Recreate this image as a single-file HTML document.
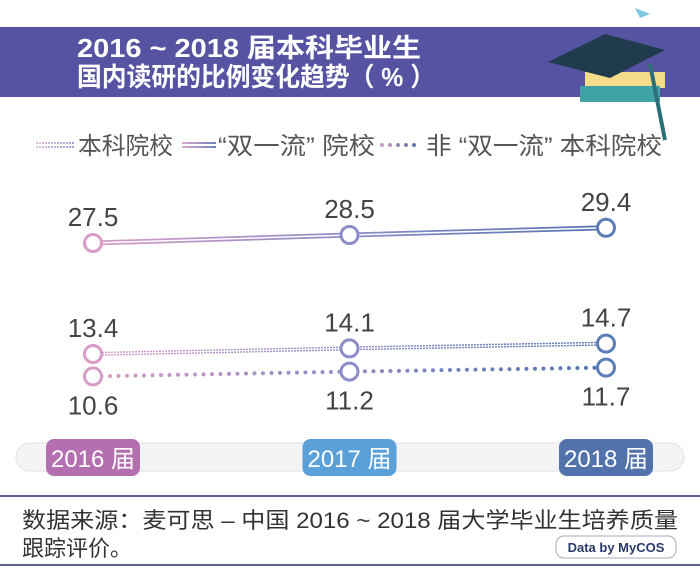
<!DOCTYPE html>
<html><head><meta charset="utf-8">
<style>
body{margin:0;width:700px;height:585px;background:#fff;overflow:hidden;font-family:"Liberation Sans","Noto Sans CJK SC",sans-serif;}
svg{display:block}
</style></head><body>
<svg width="700" height="585" viewBox="0 0 700 585">
<defs>
<linearGradient id="g" x1="93" x2="606" y1="0" y2="0" gradientUnits="userSpaceOnUse">
<stop offset="0" stop-color="#d89cc6"/><stop offset="0.5" stop-color="#8d8cc9"/><stop offset="1" stop-color="#5473b0"/></linearGradient>
<linearGradient id="lg1" x1="36" x2="75" y1="0" y2="0" gradientUnits="userSpaceOnUse"><stop offset="0" stop-color="#d89cc6"/><stop offset="1" stop-color="#5473b0"/></linearGradient>
<linearGradient id="lg2" x1="182" x2="216" y1="0" y2="0" gradientUnits="userSpaceOnUse"><stop offset="0" stop-color="#d89cc6"/><stop offset="1" stop-color="#5473b0"/></linearGradient>
<linearGradient id="lg3" x1="380" x2="418" y1="0" y2="0" gradientUnits="userSpaceOnUse"><stop offset="0" stop-color="#d89cc6"/><stop offset="1" stop-color="#5473b0"/></linearGradient>
</defs>
<rect x="0" y="27" width="700" height="70" fill="#5753a3"/>
<g fill="#fff" font-weight="bold" font-size="26">
<text x="77" y="57" textLength="344" lengthAdjust="spacingAndGlyphs">2016 ~ 2018 届本科毕业生</text>
<text x="77" y="86" textLength="358" lengthAdjust="spacingAndGlyphs">国内读研的比例变化趋势（ % ）</text>
</g>
<g>
<rect x="585" y="72" width="80" height="16" fill="#f4dc8a"/>
<rect x="580" y="86" width="80" height="16" fill="#3fa3a6"/>
<polygon points="548,62 605,34 665,50 610,78" fill="#1f3b4d"/>
<line x1="650" y1="64" x2="665" y2="140" stroke="#2c6f78" stroke-width="4"/>
<polygon points="635,8 650,14 640,18" fill="#7cc6e0"/>
</g>
<g font-size="24" fill="#555">
<g><line x1="36" y1="143" x2="75" y2="143" stroke="url(#lg1)" stroke-width="1.2" stroke-dasharray="2,1"/><line x1="36" y1="147" x2="75" y2="147" stroke="url(#lg1)" stroke-width="1.2" stroke-dasharray="2,1"/><text x="78" y="154" textLength="95" lengthAdjust="spacingAndGlyphs">本科院校</text></g>
<g><line x1="182" y1="143" x2="216" y2="143" stroke="url(#lg2)" stroke-width="1.8"/><line x1="182" y1="147" x2="216" y2="147" stroke="url(#lg2)" stroke-width="1.8"/><text x="218" y="154" textLength="157" lengthAdjust="spacingAndGlyphs">“双一流” 院校</text></g>
<g><line x1="382" y1="145" x2="418" y2="145" stroke="url(#lg3)" stroke-width="4" stroke-linecap="round" stroke-dasharray="0,8"/><text x="426" y="154" textLength="236" lengthAdjust="spacingAndGlyphs">非 “双一流” 本科院校</text></g>
</g>
<rect x="16" y="443" width="668" height="28" rx="14" fill="#f4f4f6" stroke="#e2e2e6"/>
<g id="plot"></g>
<line x1="0" y1="496" x2="700" y2="496" stroke="#5d6190" stroke-width="2"/>
<line x1="0" y1="565" x2="700" y2="565" stroke="#5d6190" stroke-width="2"/>
<g font-size="22" fill="#333">
<text x="22" y="528" textLength="656" lengthAdjust="spacingAndGlyphs">数据来源：麦可思 – 中国 2016 ~ 2018 届大学毕业生培养质量</text>
<text x="22" y="556">跟踪评价。</text>
</g>
<g>
<rect x="556" y="536" width="120" height="22" rx="8" fill="#fff" stroke="#aab"/>
<text x="616" y="552" text-anchor="middle" font-size="13" font-weight="bold" fill="#2a3a6a">Data by MyCOS</text>
</g>
</svg>
<script>
const years = ["2016 届","2017 届","2018 届"];
const doubleFirst = [27.5, 28.5, 29.4];
const undergrad = [13.4, 14.1, 14.7];
const nonDouble = [10.6, 11.2, 11.7];
const pillColors = ["#b46fb0","#5aa0d9","#5272ab"];
const ptColors = ["#d89cc6","#8d8cc9","#5b7db8"];
const NS="http://www.w3.org/2000/svg";
const plot=document.getElementById('plot');
function x(i){return 93+i*256.5;}
function y(v){return v>20 ? 243-(v-27.5)*8 : 354-(v-13.4)*8;}
function mk(tag,attrs,parent){const e=document.createElementNS(NS,tag);for(const k in attrs)e.setAttribute(k,attrs[k]);(parent||plot).appendChild(e);return e;}
function path(arr){return arr.map((v,i)=>(i?'L':'M')+x(i)+','+y(v)).join(' ');}
let l1=mk('path',{d:path(doubleFirst),fill:'none',stroke:'url(#g)','stroke-width':5});


mk('path',{d:path(doubleFirst),fill:'none',stroke:'#fff','stroke-width':1.5});
let l2=mk('path',{d:path(undergrad),fill:'none',stroke:'url(#g)','stroke-width':4,'stroke-dasharray':'2,1'});


mk('path',{d:path(undergrad),fill:'none',stroke:'#fff','stroke-width':1.2});
let l3=mk('path',{d:path(nonDouble),fill:'none',stroke:'url(#g)','stroke-width':4,'stroke-linecap':'round','stroke-dasharray':'0,8.5'});


const series=[[doubleFirst,'double-first',-1],[undergrad,'undergrad',-1],[nonDouble,'non-double',1]];
series.forEach(([arr,nm,dir])=>{
 arr.forEach((v,i)=>{
  const c=mk('circle',{cx:x(i),cy:y(v),r:8.5,fill:'#fff',stroke:ptColors[i],'stroke-width':3});
  
  
  const t=mk('text',{x:x(i),y:dir<0?y(v)-17:y(v)+38,'text-anchor':'middle','font-size':26,fill:'#444'});
  t.textContent=v.toFixed(1);
  
  
 });
});
years.forEach((yr,i)=>{
 const r=mk('rect',{x:x(i)-47,y:439,width:94,height:37,rx:8,fill:pillColors[i]});
 
 
 const t=mk('text',{x:x(i),y:467,'text-anchor':'middle','font-size':24,fill:'#fff'});
 t.textContent=yr;
 
 
});
</script>
</body></html>
